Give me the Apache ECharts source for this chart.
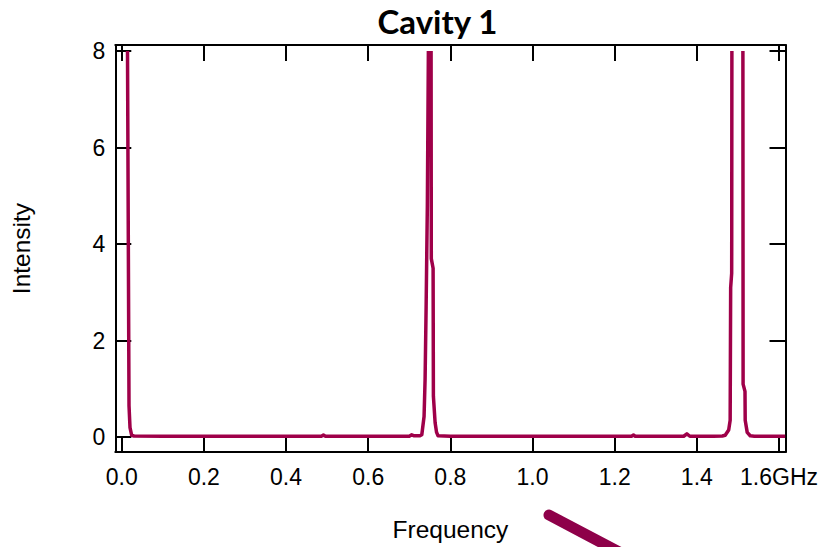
<!DOCTYPE html>
<html>
<head>
<meta charset="utf-8">
<script src="https://cdn.jsdelivr.net/npm/echarts@6/dist/echarts.min.js"></script>
<style>
html,body{margin:0;padding:0;background:#fff;}
#chart{width:821px;height:547px;}
</style>
</head>
<body>
<div id="chart"></div>
<script>
// ---- data ----
const titleText = 'Cavity 1';
const xName = 'Frequency';
const yName = 'Intensity';
const xTicks = [0.0, 0.2, 0.4, 0.6, 0.8, 1.0, 1.2, 1.4, 1.6];
const xTickLabels = ['0.0', '0.2', '0.4', '0.6', '0.8', '1.0', '1.2', '1.4', '1.6GHz'];
const yTicks = [0, 2, 4, 6, 8];
const yTickLabels = ['0', '2', '4', '6', '8'];
// frequency (GHz) and intensity; null = curve leaves the visible range (above 8)
const freq = [
  0.0141, 0.0178, 0.0202, 0.0243, 0.030, 0.10, 0.20, 0.30, 0.40, 0.486, 0.491, 0.496,
  0.60, 0.700, 0.706, 0.712, 0.726, 0.7305, 0.736, 0.7385, 0.741, 0.744, 0.7465,
  0.750,
  0.7531, 0.7536, 0.758, 0.7587, 0.7629, 0.7665, 0.770, 0.80, 0.90, 1.00, 1.10, 1.20,
  1.241, 1.2457, 1.250, 1.30, 1.368, 1.3757, 1.383, 1.44, 1.462, 1.469, 1.4775, 1.4811,
  1.4823, 1.4848, 1.4853,
  1.498,
  1.5121, 1.5126, 1.5172, 1.5177, 1.5226, 1.5299, 1.54, 1.60, 1.615
];
const intensity = [
  8, 0.65, 0.2, 0.04, 0.025, 0.02, 0.02, 0.02, 0.02, 0.02, 0.045, 0.02,
  0.02, 0.02, 0.05, 0.03, 0.03, 0.05, 0.43, 1.2, 2.7, 4.8, 8,
  null,
  8, 3.7, 3.5, 0.85, 0.3, 0.1, 0.03, 0.02, 0.02, 0.02, 0.02, 0.02,
  0.02, 0.045, 0.02, 0.02, 0.02, 0.07, 0.02, 0.02, 0.025, 0.04, 0.15, 0.35,
  3.1, 3.4, 8,
  null,
  8, 1.1, 0.95, 0.35, 0.1, 0.03, 0.02, 0.02, 0.02
];
const xRange = [-0.0156, 1.6158];
const yRange = [-0.306, 8.124];

// ---- chart ----
const lineColor = '#9F0049';
const seriesData = freq.map((f, i) => [f, intensity[i] === null ? '-' : intensity[i]]);
const labelFont = 'Liberation Sans, Arial, sans-serif';

function xAxisCfg(pos, withLabels) {
  return {
    type: 'value', position: pos, min: xRange[0], max: xRange[1],
    axisLine: { show: true, onZero: false, lineStyle: { color: '#000', width: 2 } },
    axisTick: { show: true, inside: true, length: 16, customValues: xTicks, lineStyle: { color: '#000', width: 2 } },
    axisLabel: withLabels ? {
      show: true, customValues: xTicks, margin: 13, color: '#000', fontSize: 23, fontFamily: labelFont,
      formatter: v => { const i = xTicks.findIndex(t => Math.abs(t - v) < 1e-6); return i >= 0 ? xTickLabels[i] : ''; }
    } : { show: false },
    splitLine: { show: false },
    name: withLabels ? xName : '', nameLocation: 'middle', nameGap: 65,
    nameTextStyle: { color: '#000', fontSize: 24.5, fontFamily: labelFont }
  };
}
function yAxisCfg(pos, withLabels) {
  return {
    type: 'value', position: pos, min: yRange[0], max: yRange[1],
    axisLine: { show: true, onZero: false, lineStyle: { color: '#000', width: 2 } },
    axisTick: { show: true, inside: true, length: 16, customValues: yTicks, lineStyle: { color: '#000', width: 2 } },
    axisLabel: withLabels ? {
      show: true, customValues: yTicks, margin: 10, color: '#000', fontSize: 23, fontFamily: labelFont,
      formatter: v => { const i = yTicks.findIndex(t => Math.abs(t - v) < 1e-6); return i >= 0 ? yTickLabels[i] : ''; }
    } : { show: false },
    splitLine: { show: false },
    name: withLabels ? yName : '', nameLocation: 'middle', nameGap: 81, nameRotate: 90,
    nameTextStyle: { color: '#000', fontSize: 24.5, fontFamily: labelFont }
  };
}

const chart = echarts.init(document.getElementById('chart'), null, { renderer: 'svg' });
chart.setOption({
  animation: false,
  backgroundColor: '#fff',
  grid: { left: 115.3, top: 45, right: 35.5, bottom: 94.2, containLabel: false },
  xAxis: [xAxisCfg('bottom', true), xAxisCfg('top', false)],
  yAxis: [yAxisCfg('left', true), yAxisCfg('right', false)],
  series: [{
    type: 'line', xAxisIndex: 0, yAxisIndex: 0, data: seriesData,
    showSymbol: false, connectNulls: false, clip: true,
    lineStyle: { color: lineColor, width: 3.5, join: 'round' }
  }],
  graphic: [
    { type: 'text', x: 437.5, y: 21,
      style: { text: titleText, fill: '#000', font: 'bold 33px Lato, "Open Sans", sans-serif',
               textAlign: 'center', textVerticalAlign: 'middle' } },
    { type: 'line', shape: { x1: 549, y1: 515, x2: 640, y2: 563 },
      style: { stroke: '#8E0049', lineWidth: 11, lineCap: 'round' } }
  ]
});
</script>
</body>
</html>
